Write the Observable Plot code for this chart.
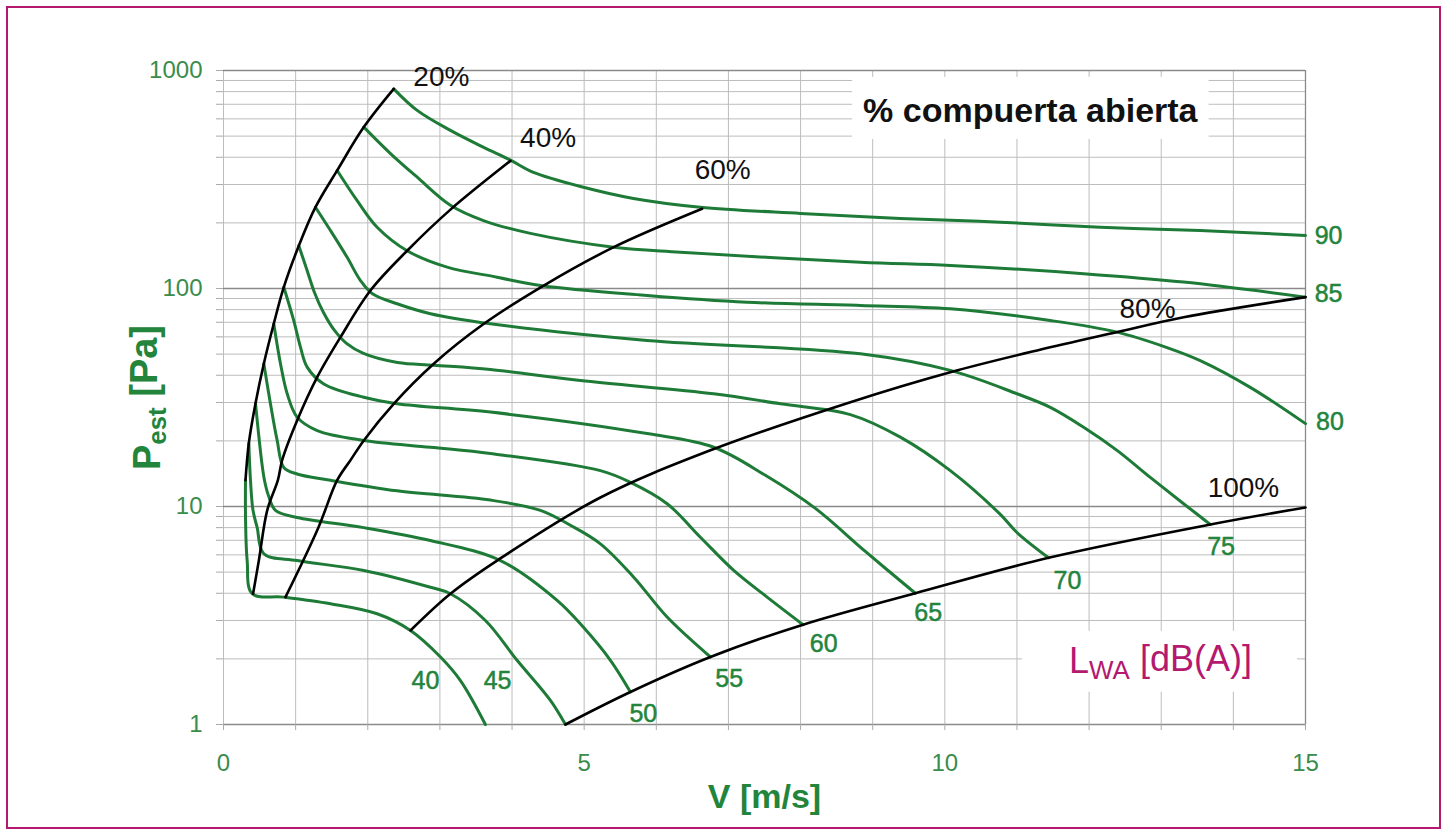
<!DOCTYPE html>
<html><head><meta charset="utf-8">
<script src="https://cdn.jsdelivr.net/npm/d3@7"></script>
<script src="https://cdn.jsdelivr.net/npm/@observablehq/plot@0.6"></script>
<style>
html,body{margin:0;padding:0;background:#fff;}
#wrap{position:relative;width:1447px;height:834px;overflow:hidden;background:#fff;}
#chart{position:absolute;left:0;top:0;}
#frame{position:absolute;left:6px;top:6px;width:1431px;height:819px;border:2px solid #b4186f;pointer-events:none;}
</style></head><body>
<div id="wrap"><div id="chart"></div><div id="frame"></div></div>
<script>
// ---- grid / tick values ----
const vGrid = [0,1,2,3,4,5,6,7,8,9,10,11,12,13,14,15];
const xTicks = [0,5,10,15];
const xEdge = [15];
const pDecades = [1,10,100,1000];
const pMinor = [2,3,4,5,6,7,8,9,20,30,40,50,60,70,80,90,200,300,400,500,600,700,800,900];
const pAll = [1,2,3,4,5,6,7,8,9,10,20,30,40,50,60,70,80,90,100,200,300,400,500,600,700,800,900,1000];

// ---- damper opening curves (V m/s, Pest Pa) ----
const open20 = [[0.305,13.2],[0.351,19.5],[0.4435,29.7],[0.559,45.2],[0.697,68.9],[0.836,101.4],[1.044,157],[1.275,236],[1.576,348],[1.945,550],[2.36,824]];
const open40 = [[0.41,3.98],[0.49,5.65],[0.606,9.6],[0.754,13.2],[0.813,16.3],[1.021,24.8],[1.299,39.2],[1.622,59.8],[2.037,97.9],[2.546,149],[3.146,230],[3.978,385]];
const open60 = [[0.859,3.84],[1.31,7.93],[1.576,13.2],[1.76,16.3],[1.945,20.1],[2.36,29.6],[2.915,45.2],[3.61,68.9],[4.439,103.2],[5.41,154.7],[6.635,232]];
const open80 = [[2.592,2.70],[3.146,3.98],[3.793,5.65],[5.225,11.0],[6.75,18.1],[8.69,30.1],[10.076,41.3],[11.28,52],[12.38,63],[13.31,73.8],[15,91.3]];
const open100 = [[4.74,1.0],[5.641,1.41],[6.75,2.04],[8.034,2.87],[9.591,4.0],[11.438,5.82],[13.68,8.27],[15,9.9]];

// ---- sound power level curves LWA dB(A) ----
const lwa90 = [[2.36,824],[2.685,656],[3.146,531],[3.60,445],[3.978,388],[4.297,341],[4.99,291.5],[5.683,259],[6.611,236],[8.0,221],[9.383,209.5],[10.769,201.5],[12.155,191],[13.541,184.5],[15,175]];
const lwa85 = [[1.945,550],[2.315,416],[2.685,324],[3.146,241],[3.604,205],[4.255,179],[5.41,154.7],[6.334,146.8],[8.829,132],[10.076,127.6],[11.924,117],[13.31,107],[15,91.3]];
const lwa80 = [[1.576,348],[1.853,253],[2.13,191],[2.546,149],[3.10,125.3],[3.793,112.7],[4.394,103.2],[5.872,92.9],[7.258,86.5],[8.829,83.6],[10.076,80.7],[11.462,71.3],[12.387,63.1],[13.08,53.6],[13.541,46.7],[14.234,35.2],[15,24.0]];
const lwa75 = [[1.275,236],[1.483,184.5],[1.714,139],[1.899,108.8],[2.065,94.6],[2.407,85.1],[2.869,76.6],[3.70,68.9],[5.872,57.7],[8.829,50.2],[10.076,42.1],[11.0,32.9],[11.462,28.5],[11.924,23.1],[12.387,18.1],[12.848,13.6],[13.31,10.3],[13.68,8.27]];
const lwa70 = [[1.044,157],[1.150,123.6],[1.261,95.9],[1.386,77.6],[1.539,64.2],[1.705,56.0],[1.940,50.4],[2.412,45.8],[2.915,44.5],[3.70,42.5],[4.948,37.8],[6.796,32.9],[7.72,29.6],[8.69,26.4],[9.383,20.8],[10.076,14.6],[10.769,9.2],[11.0,7.6],[11.438,5.82]];
const lwa65 = [[0.836,101.4],[0.974,71.3],[1.067,53.8],[1.16,43.6],[1.39,36.5],[1.945,31.7],[2.407,29.6],[3.70,27.1],[5.872,21.6],[6.796,18.7],[7.512,13.9],[8.205,9.8],[8.898,6.22],[9.591,4.0]];
const lwa60 = [[0.697,68.9],[0.79,45.2],[0.883,32.9],[1.021,25.7],[1.299,22.3],[1.945,20.1],[2.869,18.7],[3.70,17.5],[5.225,14.6],[5.641,12.9],[6.15,10.3],[6.611,7.23],[7.073,5.09],[7.536,3.84],[8.034,2.87]];
const lwa55 = [[0.559,45.2],[0.651,29.6],[0.744,20.1],[0.836,15.1],[1.021,14.1],[1.483,13.2],[2.407,11.8],[3.70,10.7],[4.394,9.6],[4.809,8.2],[5.225,6.74],[5.687,4.74],[6.15,3.11],[6.75,2.04]];
const lwa50 = [[0.4435,29.7],[0.527,16.3],[0.568,13.2],[0.624,11.2],[0.721,9.6],[1.021,8.9],[1.945,8.0],[2.869,6.98],[3.839,5.65],[4.625,3.71],[4.99,2.79],[5.364,1.97],[5.641,1.41]];
const lwa45 = [[0.351,19.5],[0.374,13.2],[0.409,9.6],[0.467,8.0],[0.559,6.07],[1.021,5.65],[1.945,5.09],[2.869,4.26],[3.146,3.98],[3.631,3.0],[4.07,1.97],[4.532,1.29],[4.74,1.0]];
const lwa40 = [[0.305,13.2],[0.306,8.6],[0.328,5.65],[0.398,3.98],[0.836,3.84],[1.483,3.58],[2.13,3.22],[2.592,2.70],[3.008,2.04],[3.285,1.59],[3.631,1.0]];

// ---- labels ----
const openLabels = ["20%","40%","60%","80%","100%"];
const openLabelPos = [[3.02,938],[4.50,488],[6.92,348],[12.81,80.1],[14.14,12.2]];
const levelLabels = ["40","45","50","55","60","65","70","75","80","85","90"];
const levelLabelPos = [[2.80,1.59],[3.80,1.59],[5.82,1.123],[7.01,1.61],[8.32,2.33],[9.77,3.26],[11.70,4.53],[13.83,6.49],[15.34,24.5],[15.32,94.8],[15.32,175]];
const titleText = "% compuerta abierta";
const titlePos = [11.185, 652];
const lwaText = "LWA [dB(A)]";
const lwaPos = [12.99, 1.945];
const xTitle = "V [m/s]";
const yTitle = "Pest [Pa]";

// ---- build tables ----
const openSeries = [open20, open40, open60, open80, open100];
const openRows = openSeries.flatMap((s, i) => s.map(([v, p]) => ({v, p, k: openLabels[i]})));
const lwaSeries = [lwa40, lwa45, lwa50, lwa55, lwa60, lwa65, lwa70, lwa75, lwa80, lwa85, lwa90];
const lwaRows = lwaSeries.flatMap((s, i) => s.map(([v, p]) => ({v, p, k: levelLabels[i]})));
const openLab = openLabels.map((t, i) => ({t, v: openLabelPos[i][0], p: openLabelPos[i][1]}));
const levelLab = levelLabels.map((t, i) => ({t, v: levelLabelPos[i][0], p: levelLabelPos[i][1]}));

const green = "#1e7b37";
const labelGreen = "#23843c";
const tickGreen = "#3a8c4b";
const magenta = "#b4186f";
const font = "Liberation Sans, Arial, Helvetica, sans-serif";

const chart = Plot.plot({
  width: 1447, height: 834,
  marginLeft: 223, marginRight: 142, marginTop: 70, marginBottom: 110,
  x: {domain: [0, 15]},
  y: {type: "log", domain: [1, 1000]},
  style: {fontFamily: font, background: "white", overflow: "visible"},
  marks: [
    Plot.gridY(pMinor, {stroke: "#bdbdbd", strokeOpacity: 1, strokeWidth: 1}),
    Plot.gridX(vGrid, {stroke: "#bdbdbd", strokeOpacity: 1, strokeWidth: 1}),
    Plot.gridY(pDecades, {stroke: "#8a8a8a", strokeOpacity: 1, strokeWidth: 1.3}),
    Plot.gridX(xEdge, {stroke: "#8a8a8a", strokeOpacity: 1, strokeWidth: 1.3}),
    Plot.axisY({ticks: pAll, tickSize: 7, tickFormat: () => "", stroke: "#aaaaaa", label: null}),
    Plot.axisX({ticks: vGrid, tickSize: 6, tickFormat: () => "", stroke: "#aaaaaa", label: null}),
    Plot.axisY({ticks: pDecades, tickSize: 0, tickPadding: 21, tickFormat: d3.format("d"), fontSize: 24, fill: tickGreen, label: null}),
    Plot.axisX({ticks: xTicks, tickSize: 0, tickPadding: 29, tickFormat: d3.format("d"), fontSize: 24, fill: tickGreen, label: null}),
    Plot.line(lwaRows, {x: "v", y: "p", z: "k", stroke: green, strokeWidth: 3, curve: "catmull-rom"}),
    Plot.line(openRows, {x: "v", y: "p", z: "k", stroke: "black", strokeWidth: 2.6, curve: "catmull-rom"}),
    Plot.text(levelLab, {x: "v", y: "p", text: "t", fill: labelGreen, stroke: labelGreen, strokeWidth: 0.5, fontSize: 25}),
    Plot.text(openLab, {x: "v", y: "p", text: "t", fill: "#111", fontSize: 28}),
    Plot.text([titleText], {x: () => titlePos[0], y: () => titlePos[1], text: d => d, fill: "#111", fontSize: 34, fontWeight: "bold"}),
    Plot.text([lwaText], {x: () => lwaPos[0], y: () => lwaPos[1], text: d => d, fill: magenta, fontSize: 36}),
    Plot.text([xTitle], {frameAnchor: "bottom", lineAnchor: "middle", textAnchor: "middle", dy: 73, text: d => d, fill: labelGreen, fontSize: 34, fontWeight: "bold"}),
    Plot.text([yTitle], {frameAnchor: "left", lineAnchor: "middle", textAnchor: "middle", dx: -76, rotate: -90, text: d => d, fill: labelGreen, fontSize: 38, fontWeight: "bold"})
  ]
});
document.getElementById("chart").append(chart);

const NS = "http://www.w3.org/2000/svg";
function findText(str) {
  return Array.from(chart.querySelectorAll("text")).find(t => t.textContent === str);
}
function subscriptify(str, head, sub, tail, size, shift) {
  const t = findText(str);
  if (!t) return null;
  t.textContent = head;
  const s1 = document.createElementNS(NS, "tspan");
  s1.setAttribute("font-size", size); s1.setAttribute("dy", shift); s1.textContent = sub;
  const s2 = document.createElementNS(NS, "tspan");
  s2.setAttribute("dy", "-" + shift); s2.textContent = tail;
  t.append(s1, s2);
  return t;
}
const lwaEl = subscriptify(lwaText, "L", "WA", " [dB(A)]", "0.72em", "0.22em");
subscriptify(yTitle, "P", "est", " [Pa]", "0.68em", "0.25em");

function boxBehind(t, pl, pr, pt, pb) {
  if (!t) return;
  const sr = chart.getBoundingClientRect(), r = t.getBoundingClientRect();
  const rect = document.createElementNS(NS, "rect");
  rect.setAttribute("x", r.left - sr.left - pl);
  rect.setAttribute("y", r.top - sr.top - pt);
  rect.setAttribute("width", r.width + pl + pr);
  rect.setAttribute("height", r.height + pt + pb);
  rect.setAttribute("fill", "white");
  const firstLine = chart.querySelector('g[aria-label="line"]');
  chart.insertBefore(rect, firstLine);
}
boxBehind(findText(titleText), 11, 10, 14, 10);
boxBehind(lwaEl, 47, 45, 7, 8);
</script>
</body></html>
